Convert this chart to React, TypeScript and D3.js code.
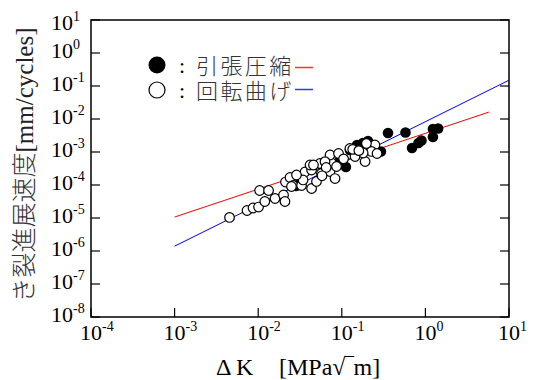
import React from "react";
import * as d3 from "d3";

// ---- data ----
const xTickExps = [-4, -3, -2, -1, 0, 1];
const yTickExps = [1, 0, -1, -2, -3, -4, -5, -6, -7, -8];

// 引張圧縮 (filled circles): ΔK, da/dN
const tensionDK = [0.357, 0.578, 0.692, 0.827, 0.898, 1.23, 1.42, 1.23, 0.294, 0.152, 0.179, 0.206, 0.125, 0.112, 0.0951, 0.0316, 0.024, 0.0283, 0.0723, 0.058];
const tensionRate = [3.77e-3, 3.9e-3, 1.32e-3, 1.87e-3, 2.23e-3, 4.98e-3, 5.15e-3, 2.85e-3, 1.04e-3, 1.63e-3, 1.87e-3, 2.15e-3, 1.15e-3, 3.51e-4, 5.72e-4, 1.63e-4, 1.15e-4, 9.33e-5, 3.27e-4, 4.04e-4];

// 回転曲げ (open circles): ΔK, da/dN
const bendingDK = [
  4.54e-3, 7.35e-3, 8.67e-3, 1.01e-2, 1.04e-2, 1.33e-2, 1.2e-2, 1.59e-2, 2.01e-2, 2.09e-2,
  2.12e-2, 2.4e-2, 2.61e-2, 3.3e-2, 3.63e-2, 4.35e-2, 4.35e-2, 4.17e-2, 5.48e-2, 5.71e-2,
  7.23e-2, 7.54e-2, 8.3e-2, 7.23e-2, 9.14e-2, 8.65e-2, 0.125, 0.144, 0.19, 0.249,
  0.226, 0.264, 0.197, 4.98e-2, 3.44e-2, 2.87e-2, 2.5e-2, 4.58e-2, 6.3e-2, 0.135,
  0.18, 0.105, 0.065, 0.16, 0.058,
];
const bendingRate = [
  1.04e-5, 1.69e-5, 2.01e-5, 2.15e-5, 6.81e-5, 6.81e-5, 3.16e-5, 3.9e-5, 4.98e-5, 3.16e-5,
  1.23e-4, 1.69e-4, 9.66e-5, 9.66e-5, 2.48e-4, 2.85e-4, 7.83e-5, 4.04e-4, 4.49e-4, 2.23e-4,
  2.56e-4, 4.64e-4, 1.57e-4, 8.11e-4, 9.01e-4, 3.64e-4, 1.28e-3, 7.31e-4, 5.15e-4, 1.63e-3,
  1.04e-3, 9.01e-4, 1.81e-3, 1.28e-4, 1.42e-4, 2.01e-4, 9.01e-5, 4.04e-4, 5.1e-4, 1.2e-3,
  9.3e-4, 6.2e-4, 3.4e-4, 1.1e-3, 1.9e-4,
];

// fitted lines (end points)
const redLineDK = [1e-3, 5.75];
const redLineRate = [1.07e-5, 0.0162];
const blueLineDK = [1e-3, 10];
const blueLineRate = [1.4e-6, 0.15];

const legendLabels = ["引張圧縮", "回転曲げ"];

const serif = "Liberation Serif, Times New Roman, Times, serif";
const cjkOnly = "Noto Sans CJK JP, sans-serif";

export default function App() {
  const W = 539, H = 380;
  const left = 91, right = 509, top = 20, bottom = 317;
  const x = d3.scaleLog().domain([1e-4, 1e1]).range([left, right]);
  const y = d3.scaleLog().domain([1e-8, 1e1]).range([bottom, top]);
  const line = d3
    .line<[number, number]>()
    .x((d) => x(d[0]))
    .y((d) => y(d[1]));
  const red = line(redLineDK.map((v, i) => [v, redLineRate[i]]) as [number, number][]);
  const blue = line(blueLineDK.map((v, i) => [v, blueLineRate[i]]) as [number, number][]);
  const tickLen = 9;

  return (
    <svg width={W} height={H} style={{ position: "absolute", left: 0, top: 0, background: "#fff" }}>
      <defs>
        <clipPath id="plot">
          <rect x={left} y={top} width={right - left} height={bottom - top} />
        </clipPath>
      </defs>
      {/* fit lines */}
      <g clipPath="url(#plot)">
        <path d={red || ""} stroke="#ff0000" strokeWidth={1} fill="none" />
        <path d={blue || ""} stroke="#0000ff" strokeWidth={1} fill="none" />
      </g>
      {/* filled points */}
      {tensionDK.map((v, i) => (
        <circle key={"t" + i} cx={x(v)} cy={y(tensionRate[i])} r={5.3} fill="#000" />
      ))}
      {/* open points */}
      {bendingDK.map((v, i) => (
        <circle key={"b" + i} cx={x(v)} cy={y(bendingRate[i])} r={4.8} fill="#fff" stroke="#000" strokeWidth={1.2} />
      ))}
      {/* frame */}
      <rect x={left} y={top} width={right - left} height={bottom - top} fill="none" stroke="#000" strokeWidth={1.5} />
      {/* x ticks */}
      {xTickExps.map((e) => {
        const px = x(Math.pow(10, e));
        return (
          <g key={"xt" + e}>
            <line x1={px} x2={px} y1={bottom} y2={bottom - tickLen} stroke="#000" strokeWidth={1.2} />
            <text x={px - 11} y={340} fontFamily={serif} fontSize={22} fill="#000">
              10
              <tspan dy={-9} fontSize={14}>{String(e)}</tspan>
            </text>
          </g>
        );
      })}
      {/* y ticks */}
      {yTickExps.map((e) => {
        const py = y(Math.pow(10, e));
        return (
          <g key={"yt" + e}>
            <line x1={left} x2={left + tickLen} y1={py} y2={py} stroke="#000" strokeWidth={1.2} />
            <line x1={right} x2={right - tickLen} y1={py} y2={py} stroke="#000" strokeWidth={1.2} />
            <text x={51} y={Math.max(py + 5, 30)} fontFamily={serif} fontSize={22} fill="#000">
              10
              <tspan dy={-9} fontSize={14}>{String(e)}</tspan>
            </text>
          </g>
        );
      })}
      {/* axis titles */}
      <text x={216} y={375} fontFamily={serif} fontSize={24} fill="#000">
        Δ K
      </text>
      <text x={279} y={375} fontFamily={serif} fontSize={24} fill="#000">
        [MPa√‾m]
      </text>
      <text
        transform={`translate(33,165) rotate(-90)`}
        textAnchor="middle"
        fontSize={25}
        fill="#333"
      >
        <tspan fontFamily={cjkOnly} fontWeight={300}>き裂進展速度</tspan>
        <tspan fontFamily="Liberation Serif" fontWeight={400} fill="#222">[mm/cycles]</tspan>
      </text>
      {/* legend */}
      <circle cx={157} cy={65} r={8.5} fill="#000" />
      <circle cx={157} cy={90} r={8} fill="#fff" stroke="#000" strokeWidth={1.2} />
      <text fontFamily={serif} fontSize={22} textAnchor="middle">
        <tspan x={182} y={73}>:</tspan>
        <tspan x={182} y={98}>:</tspan>
      </text>
      <text fontFamily={cjkOnly} fontSize={22} letterSpacing={2.4} fontWeight={300} fill="#333">
        <tspan x={196} y={74}>{legendLabels[0]}</tspan>
        <tspan x={196} y={99}>{legendLabels[1]}</tspan>
      </text>
      <line x1={295} x2={313} y1={67.5} y2={67.5} stroke="#ff3333" strokeWidth={1.5} />
      <line x1={295} x2={313} y1={89.5} y2={89.5} stroke="#3333ff" strokeWidth={1.5} />
    </svg>
  );
}
